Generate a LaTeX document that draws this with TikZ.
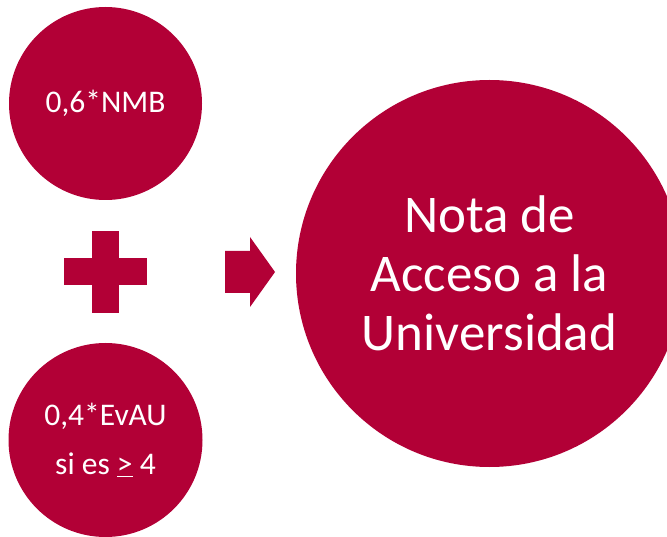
\documentclass[tikz,border=0pt]{standalone}
\usepackage{fontspec}
\setmainfont{Carlito}
\usetikzlibrary{calc}
\definecolor{granate}{RGB}{178,0,54}
\tikzset{
	disco/.style={circle,fill=granate,text=white,inner sep=0pt,minimum size=#1,align=center},
	signo/.style={fill=granate}
}
\begin{document}
\begin{tikzpicture}[x=1pt,y=-1pt]
	\useasboundingbox (0,0) rectangle (667,537);
	\clip (0,0) rectangle (667,537);
	\node[disco=193pt,font=\fontsize{31.5}{36}\selectfont] (nmb) at (105.5,103.5) {0,6*NMB};
	\node[disco=194pt,font=\fontsize{31.5}{49}\selectfont] (evau) at (105.5,440) {0,4*EvAU\\si es \underline{>} 4};
	\node[disco=387pt,font=\fontsize{53}{59}\selectfont] (nota) at (489.5,273.5) {Nota de\\Acceso a la\\Universidad};
	% signo mas
	\coordinate (mas) at (105.5,272);
	\fill[signo] ($(mas)+(-41.5,-13.5)$) rectangle ($(mas)+(41.5,13.5)$);
	\fill[signo] ($(mas)+(-13.5,-41)$) rectangle ($(mas)+(13.5,41)$);
	% flecha
	\coordinate (flecha) at (225,272);
	\fill[signo] (flecha) ++(0,-21) -- ++(25,0) -- ++(0,-14) -- ++(25,35) -- ++(-25,35) -- ++(0,-14) -- ++(-25,0) -- cycle;
\end{tikzpicture}
\end{document}
